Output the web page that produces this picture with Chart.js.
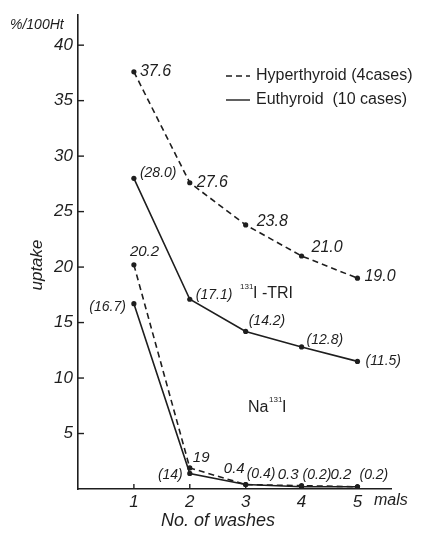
<!DOCTYPE html>
<html>
<head>
<meta charset="utf-8">
<script src="https://cdn.jsdelivr.net/npm/chart.js@4.4.1/dist/chart.umd.min.js"></script>
<style>
  html, body { margin: 0; padding: 0; background: #fff; }
  #wrap { width: 428px; height: 533px; }
</style>
</head>
<body>
<div id="wrap"><canvas id="uptake-chart" width="428" height="533"></canvas></div>
<script>
// Data
const washes = [1, 2, 3, 4, 5];
const hyperTri = [37.6, 27.6, 23.8, 21.0, 19.0];
const euthTri = [28.0, 17.1, 14.2, 12.8, 11.5];
const hyperNaI = [20.2, 1.9, 0.4, 0.3, 0.2];
const euthNaI = [16.7, 1.4, 0.4, 0.2, 0.2];

// Value labels as printed on the figure
const hyperTriText = ['37.6', '27.6', '23.8', '21.0', '19.0'];
const euthTriText = ['(28.0)', '(17.1)', '(14.2)', '(12.8)', '(11.5)'];
const hyperNaIText = ['20.2', '19', '0.4', '0.3', '0.2'];
const euthNaIText = ['(16.7)', '(14)', '(0.4)', '(0.2)', '(0.2)'];

const yTicks = [5, 10, 15, 20, 25, 30, 35, 40];
const xTicks = [1, 2, 3, 4, 5];

const ink = '#1e1e1e';
const italic = 'italic {s}px "Liberation Sans", Arial, sans-serif';
const upright = '{s}px "Liberation Sans", Arial, sans-serif';
const f = (tpl, s) => tpl.replace('{s}', s);

const pts = vals => washes.map((w, i) => ({ x: w, y: vals[i] }));

function line(label, vals, dashed, showInLegend) {
    return {
        label: label,
        data: pts(vals),
        borderColor: ink,
        backgroundColor: ink,
        borderWidth: 1.6,
        borderDash: dashed ? [6, 4] : [],
        pointRadius: 2.6,
        pointBackgroundColor: ink,
        pointBorderWidth: 0,
        tension: 0,
        inLegend: showInLegend
    };
}

// where each value label sits relative to its point: [dx, dy, align]
const labelPlace = [
    { text: hyperTriText, size: 16, pos: [[6, 0, 'left'], [7, 0, 'left'], [11, -3, 'left'], [10, -8, 'left'], [7, -2, 'left']] },
    { text: euthTriText, size: 14, pos: [[6, -5, 'left'], [6, -4, 'left'], [3, -10, 'left'], [5, -7, 'left'], [8, 0, 'left']] },
    { text: hyperNaIText, size: 15, pos: [[-4, -13, 'left'], [3, -10, 'left'], [-1, -16, 'right'], [-3, -11, 'right'], [-6, -12, 'right']] },
    { text: euthNaIText, size: 14, pos: [[-8, 3, 'right'], [-7, 2, 'right'], [1, -10, 'left'], [1, -12, 'left'], [2, -12, 'left']] }
];

const decorations = {
    id: 'decorations',
    afterDatasetsDraw(chart) {
        const ctx = chart.ctx;
        const xs = chart.scales.x;
        const ys = chart.scales.y;
        const area = chart.chartArea;
        ctx.save();
        ctx.strokeStyle = ink;
        ctx.fillStyle = ink;
        ctx.lineWidth = 1.4;

        // inward tick marks
        yTicks.forEach(v => {
            const y = ys.getPixelForValue(v);
            ctx.beginPath();
            ctx.moveTo(area.left, y);
            ctx.lineTo(area.left + 6, y);
            ctx.stroke();
        });
        xTicks.forEach(v => {
            const x = xs.getPixelForValue(v);
            ctx.beginPath();
            ctx.moveTo(x, area.bottom);
            ctx.lineTo(x, area.bottom - 5);
            ctx.stroke();
        });

        // value labels
        ctx.textBaseline = 'middle';
        chart.data.datasets.forEach((ds, di) => {
            const place = labelPlace[di];
            const meta = chart.getDatasetMeta(di);
            ctx.font = f(italic, place.size);
            meta.data.forEach((pt, i) => {
                const p = place.pos[i];
                ctx.textAlign = p[2];
                ctx.fillText(place.text[i], pt.x + p[0], pt.y + p[1]);
            });
        });

        // axis captions
        ctx.font = f(italic, 14);
        ctx.textAlign = 'left';
        ctx.fillText('%/100Ht', 10, 25);
        ctx.font = f(italic, 16);
        ctx.fillText('mals', 374, 501);
        ctx.textAlign = 'center';
        ctx.font = f(italic, 18);
        ctx.fillText('No. of washes', 218, 521);
        ctx.save();
        ctx.translate(37, 265);
        ctx.rotate(-Math.PI / 2);
        ctx.font = f(italic, 17);
        ctx.fillText('uptake', 0, 0);
        ctx.restore();

        // legend
        let ly = 76;
        ctx.textAlign = 'left';
        ctx.font = f(upright, 16);
        chart.data.datasets.filter(ds => ds.inLegend).forEach(ds => {
            ctx.setLineDash(ds.borderDash);
            ctx.lineWidth = 1.4;
            ctx.beginPath();
            ctx.moveTo(226, ly);
            ctx.lineTo(250, ly);
            ctx.stroke();
            ctx.setLineDash([]);
            ctx.fillText(ds.label, 256, ly);
            ly += 24;
        });

        // compound labels with superscript mass number
        ctx.font = f(upright, 8);
        ctx.fillText('131', 240, 287);
        ctx.font = f(upright, 16);
        ctx.fillText('I -TRI', 253, 294);
        ctx.fillText('Na', 248, 408);
        ctx.font = f(upright, 8);
        ctx.fillText('131', 269, 400);
        ctx.font = f(upright, 16);
        ctx.fillText('I', 282, 408);

        ctx.restore();
    }
};

const tickFont = { family: '"Liberation Sans", Arial, sans-serif', style: 'italic', size: 17 };

const ctx = document.getElementById('uptake-chart').getContext('2d');
const uptakeChart = new Chart(ctx, {
    type: 'line',
    data: {
        datasets: [
            line('Hyperthyroid (4cases)', hyperTri, true, true),
            line('Euthyroid  (10 cases)', euthTri, false, true),
            line('Hyperthyroid NaI', hyperNaI, true, false),
            line('Euthyroid NaI', euthNaI, false, false)
        ]
    },
    options: {
        responsive: false,
        animation: false,
        layout: { padding: { left: 0, top: 13, right: 37, bottom: 0 } },
        plugins: {
            legend: { display: false },
            tooltip: { enabled: false }
        },
        scales: {
            x: {
                type: 'linear',
                min: 0,
                max: 5.6,
                afterFit: scale => { scale.height = 44; },
                afterBuildTicks: scale => { scale.ticks = xTicks.map(v => ({ value: v })); },
                grid: { drawOnChartArea: false, drawTicks: false },
                border: { display: true, color: ink, width: 1.6 },
                ticks: { padding: 3, color: ink, font: tickFont, autoSkip: false }
            },
            y: {
                min: 0,
                max: 42.7,
                afterFit: scale => { scale.width = 78; },
                afterBuildTicks: scale => { scale.ticks = yTicks.map(v => ({ value: v })); },
                grid: { drawOnChartArea: false, drawTicks: false },
                border: { display: true, color: ink, width: 1.6 },
                ticks: { padding: 5, color: ink, font: tickFont, autoSkip: false }
            }
        }
    },
    plugins: [decorations]
});
</script>
</body>
</html>
